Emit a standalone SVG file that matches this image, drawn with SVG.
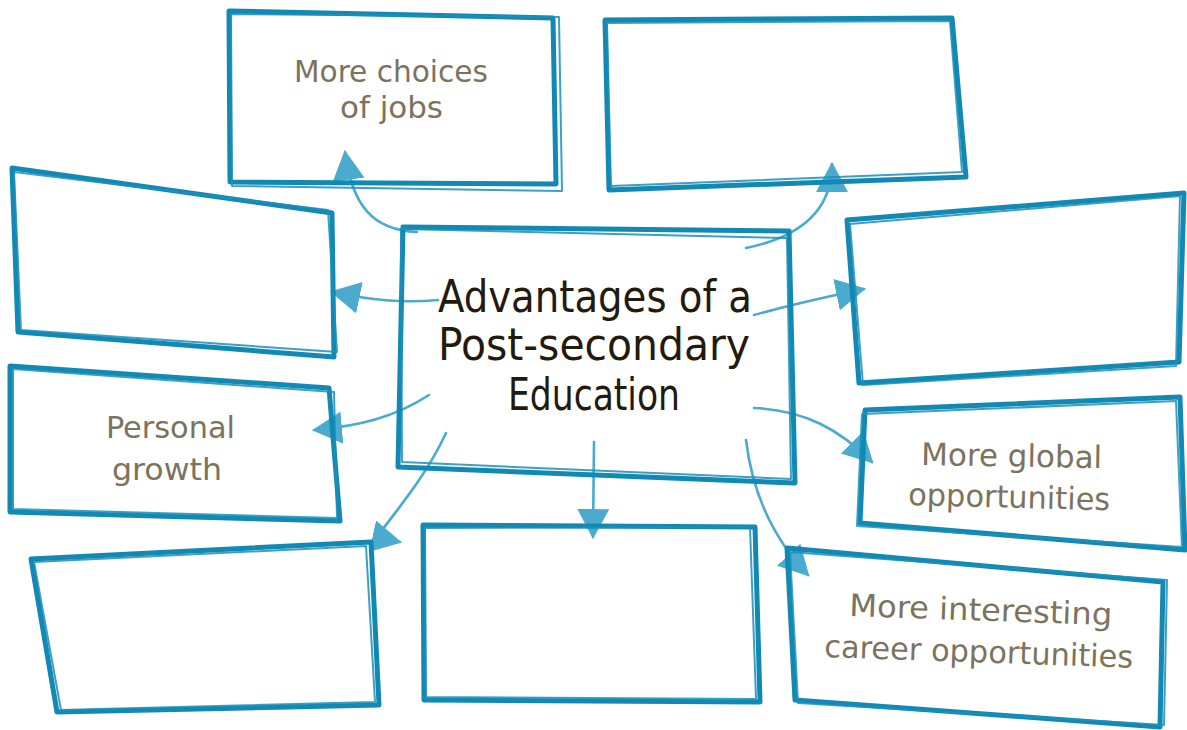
<svg xmlns="http://www.w3.org/2000/svg" width="1187" height="730" viewBox="0 0 1187 730">
<style>
.bx{fill:none;stroke:#1189b4;stroke-width:5;stroke-linejoin:round}
.bx2{fill:none;stroke:#1a8fb8;stroke-width:2;stroke-linejoin:round;opacity:.85}
.cn{fill:none;stroke:#4aabcf;stroke-width:2.6;stroke-linecap:round}
.ttl{font-family:"Liberation Sans Narrow","DejaVu Sans Condensed","Liberation Sans",sans-serif;font-size:44px;fill:#231a0c}
.lbl{font-family:"Liberation Sans Narrow","DejaVu Sans Condensed","Liberation Sans",sans-serif;font-size:31px;fill:#7b735d}
</style>
<defs>
<marker id="ah" viewBox="0 0 30 32" refX="28" refY="16" markerWidth="30" markerHeight="32" markerUnits="userSpaceOnUse" orient="auto">
<path d="M0,0 L30,16 L0,32 z" fill="#4aabcf"/>
</marker>
</defs>
<rect width="1187" height="730" fill="#ffffff"/>
<g id="connectors">
<path class="cn" d="M417,232 C372,230 352,205 345,152" marker-end="url(#ah)"/>
<path class="cn" d="M438,300 C405,303 375,301 332,292" marker-end="url(#ah)"/>
<path class="cn" d="M746,248 C795,238 832,215 832,164" marker-end="url(#ah)"/>
<path class="cn" d="M754,315 C790,305 830,296 864,289" marker-end="url(#ah)"/>
<path class="cn" d="M429,395 C395,417 360,426 314,430" marker-end="url(#ah)"/>
<path class="cn" d="M446,433 C425,478 398,508 377,537 L400,542" marker-end="url(#ah)"/>
<path class="cn" d="M594,442 L593,537" marker-end="url(#ah)"/>
<path class="cn" d="M754,408 C805,410 840,430 872,462" marker-end="url(#ah)"/>
<path class="cn" d="M746,440 C752,490 770,535 808,575" marker-end="url(#ah)"/>
</g>
<g id="center">
<polygon class="bx" points="403,227 789,231 795,483 398,467"/>
<polygon class="bx2" points="401,229 787,238 791,479 402,462"/>
<text class="ttl" x="438" y="312" textLength="314" lengthAdjust="spacingAndGlyphs">Advantages of a</text>
<text class="ttl" x="438" y="360" textLength="312" lengthAdjust="spacingAndGlyphs">Post-secondary</text>
<text class="ttl" x="508" y="410" textLength="172" lengthAdjust="spacingAndGlyphs">Education</text>
</g>
<g id="node-jobs">
<polygon class="bx" points="229,11 553,18 556,184 230,182"/>
<polygon class="bx2" points="231,14 559,17 562,191 232,186"/>
<text class="lbl" x="294" y="82" textLength="194" lengthAdjust="spacingAndGlyphs">More choices</text>
<text class="lbl" x="340" y="118" textLength="103" lengthAdjust="spacingAndGlyphs">of jobs</text>
</g>
<g id="node-top-right">
<polygon class="bx" points="605,20 952,18 966,177 609,190"/>
<polygon class="bx2" points="607,23 950,21 962,172 611,186"/>
</g>
<g id="node-left-upper">
<polygon class="bx" points="12,168 332,213 334,357 18,332"/>
<polygon class="bx2" points="14,172 328,210 337,352 21,330"/>
</g>
<g id="node-right-upper">
<polygon class="bx" points="847,220 1184,193 1179,362 859,383"/>
<polygon class="bx2" points="850,224 1180,196 1176,366 863,385"/>
</g>
<g id="node-personal">
<polygon class="bx" points="10,366 329,388 340,521 10,512"/>
<polygon class="bx2" points="13,369 334,392 337,518 13,509"/>
<text class="lbl" x="106" y="438" textLength="129" lengthAdjust="spacingAndGlyphs">Personal</text>
<text class="lbl" x="112" y="480" textLength="110" lengthAdjust="spacingAndGlyphs">growth</text>
</g>
<g id="node-bottom-left">
<polygon class="bx" points="31,559 371,542 379,705 57,712"/>
<polygon class="bx2" points="34,562 366,546 375,702 61,710"/>
</g>
<g id="node-bottom-center">
<polygon class="bx" points="423,525 755,527 760,702 424,700"/>
<polygon class="bx2" points="425,528 750,527 756,699 426,697"/>
</g>
<g id="node-global">
<polygon class="bx" points="865,410 1180,397 1185,550 860,523"/>
<polygon class="bx2" points="862,414 1176,401 1182,547 857,526"/>
<text class="lbl" x="921" y="465" textLength="181" lengthAdjust="spacingAndGlyphs" transform="rotate(1 921 465)">More global</text>
<text class="lbl" x="908" y="505" textLength="202" lengthAdjust="spacingAndGlyphs" transform="rotate(1.5 908 505)">opportunities</text>
</g>
<g id="node-career">
<polygon class="bx" points="787,548 1163,582 1160,727 795,700"/>
<polygon class="bx2" points="790,552 1167,580 1164,725 798,703"/>
<text class="lbl" x="849" y="616" textLength="263" lengthAdjust="spacingAndGlyphs" transform="rotate(2 849 616)">More interesting</text>
<text class="lbl" x="824" y="657" textLength="309" lengthAdjust="spacingAndGlyphs" transform="rotate(2 824 657)">career opportunities</text>
</g>
</svg>
